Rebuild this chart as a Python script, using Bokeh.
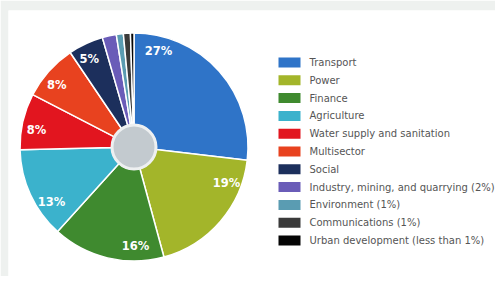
import math
from bokeh.plotting import figure
from bokeh.models import Range1d, ColumnDataSource
from bokeh.core.properties import value
from bokeh.embed import file_html
from bokeh.resources import INLINE

# ---- data ----
sectors = ["Transport", "Power", "Finance", "Agriculture", "Water supply and sanitation",
           "Multisector", "Social", "Industry, mining, and quarrying (2%)",
           "Environment (1%)", "Communications (1%)", "Urban development (less than 1%)"]
shares = [27, 19, 16, 13, 8, 8, 5, 2, 1, 1, 0.5]
pct_labels = ["27%", "19%", "16%", "13%", "8%", "8%", "5%", "", "", "", ""]
colors = ["#2f74c8", "#a3b52a", "#3f8a2f", "#3bb2cc", "#e2151f", "#e8421f",
          "#1c2f5c", "#6a5cb8", "#5a9cb2", "#3a3a3a", "#050505"]

W, H = 495, 276
p = figure(width=W, height=H, output_backend="svg", toolbar_location=None,
           x_range=Range1d(8, W), y_range=Range1d(-H, -10),
           min_border_left=8, min_border_top=10, min_border_right=0, min_border_bottom=0)
p.axis.visible = False
p.grid.visible = False
p.outline_line_color = None
p.background_fill_color = "white"
p.border_fill_color = "#eef1ef"

cx, cy = 133.5, -146.5
R, r_in = 114, 22
total = sum(shares)
starts, ends, lx, ly = [], [], [], []
cum = 0.0
for s in shares:
    a0 = math.pi / 2 - 2 * math.pi * cum / total
    a1 = math.pi / 2 - 2 * math.pi * (cum + s) / total
    starts.append(a0)
    ends.append(a1)
    off = min(s * 0.4, 4.0)
    la = math.pi / 2 - 2 * math.pi * (cum + off) / total
    lx.append(cx + 99 * math.cos(la))
    ly.append(cy + 99 * math.sin(la))
    cum += s

src = ColumnDataSource(dict(start=starts, end=ends, color=colors, lx=lx, ly=ly, lab=pct_labels))
p.annular_wedge(x=cx, y=cy, inner_radius=r_in, outer_radius=R, start_angle="start",
                end_angle="end", direction="clock", fill_color="color",
                line_color="white", line_width=1.5, source=src)
p.circle(x=cx, y=cy, radius=r_in, fill_color="#c3cacf", line_color="#eef0f1", line_width=3)
p.text(x="lx", y="ly", text="lab", source=src, text_color="white",
       text_font=value("DejaVu Sans"), text_font_style="bold", text_font_size="11.5px",
       text_align="center", text_baseline="middle")

# legend
n = len(sectors)
ly0 = -62
step = 17.8
leg_y = [ly0 - i * step for i in range(n)]
lsrc = ColumnDataSource(dict(y=leg_y, color=colors, name=sectors))
p.rect(x=289, y="y", width=22, height=10, fill_color="color", line_color=None, source=lsrc)
p.text(x=309, y="y", text="name", source=lsrc, text_color="#555555",
       text_font=value("DejaVu Sans"), text_font_size="10px",
       text_align="left", text_baseline="middle")

open("out.html", "w").write(file_html(p, INLINE))
